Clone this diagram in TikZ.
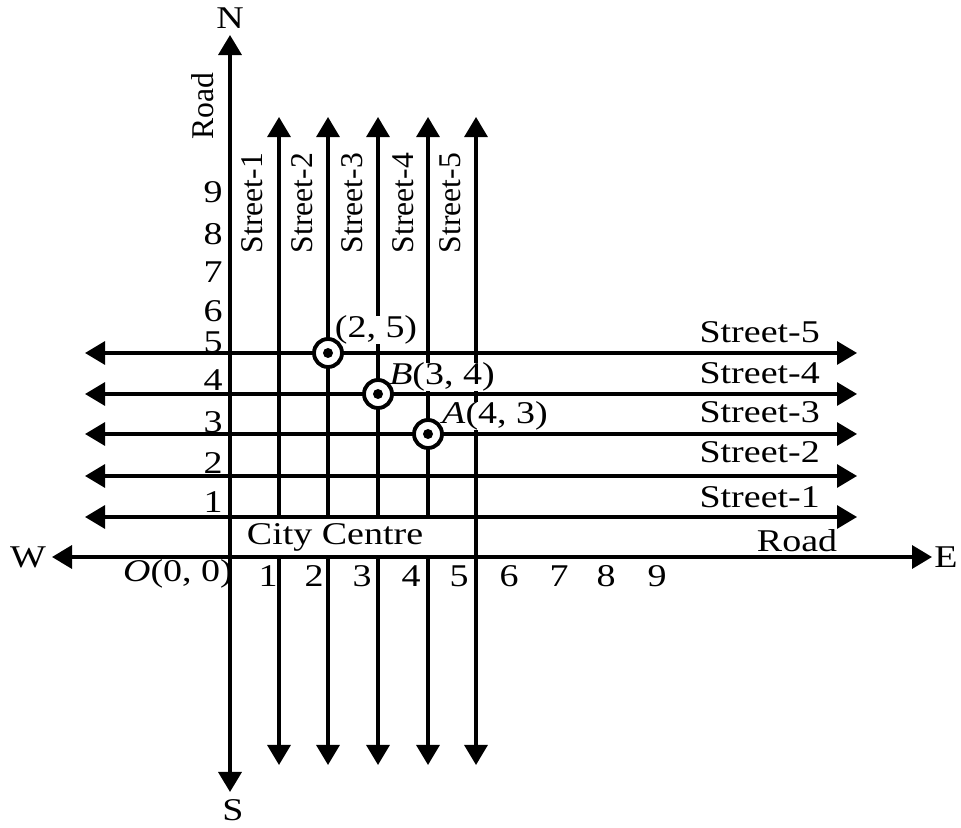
\documentclass[tikz,border=0pt]{standalone}
\usepackage{fontspec}
\setmainfont{Liberation Serif}[FakeStretch=1.2]
\newfontfamily\plainserif{Liberation Serif}
\usetikzlibrary{arrows.meta}

\begin{document}
\begin{tikzpicture}[x=0.01cm,y=-0.01cm,>={Triangle[length=2mm,width=2.3mm]},
  every node/.style={inner sep=1pt,font=\fontsize{9}{11}\selectfont},
  road/.style={<->,line width=1pt},
  street/.style={<->,line width=0.9pt},
  tag/.style={fill=white,inner ysep=0pt,inner xsep=1pt},
  uplabel/.style={rotate=90,font=\plainserif\fontsize{9}{11}\selectfont},
  spot/.style={circle,draw,fill=white,line width=1.1pt,minimum size=0.28cm,inner sep=0pt},
  dot/.style={circle,fill=black,minimum size=0.1cm,inner sep=0pt}]
  \useasboundingbox (0,0) rectangle (961,828);
  % main roads
  \coordinate (N) at (230,35);
  \coordinate (S) at (230,792);
  \coordinate (W) at (52,557);
  \coordinate (E) at (932,557);
  % streets north-south
  \coordinate (V1n) at (279,117); \coordinate (V1s) at (279,765);
  \coordinate (V2n) at (328,117); \coordinate (V2s) at (328,765);
  \coordinate (V3n) at (378,117); \coordinate (V3s) at (378,765);
  \coordinate (V4n) at (428,117); \coordinate (V4s) at (428,765);
  \coordinate (V5n) at (476,117); \coordinate (V5s) at (476,765);
  % streets east-west
  \coordinate (H1w) at (85,517); \coordinate (H1e) at (857,517);
  \coordinate (H2w) at (85,476); \coordinate (H2e) at (857,476);
  \coordinate (H3w) at (85,434); \coordinate (H3e) at (857,434);
  \coordinate (H4w) at (85,394); \coordinate (H4e) at (857,394);
  \coordinate (H5w) at (85,353); \coordinate (H5e) at (857,353);
  \draw[street] (V1s) -- (V1n);
  \draw[street] (V2s) -- (V2n);
  \draw[street] (V3s) -- (V3n);
  \draw[street] (V4s) -- (V4n);
  \draw[street] (V5s) -- (V5n);
  % labels that break the lines
  \node[tag,inner xsep=4pt,minimum height=0.37cm] (cc) at (335,537) {City Centre};
  \node[tag] (t25) at (376,330) {(2, 5)};
  \node[tag] (tB) at (442,377) {\textit{B}(3, 4)};
  \node[tag] (tA) at (495,416) {\textit{A}(4, 3)};
  \draw[road] (S) -- (N);
  \draw[road] (W) -- (E);
  \draw[street] (H1w) -- (H1e);
  \draw[street] (H2w) -- (H2e);
  \draw[street] (H3w) -- (H3e);
  \draw[street] (H4w) -- (H4e);
  \draw[street] (H5w) -- (H5e);
  % marked crossings
  \node[spot] (P25) at (328,353) {};
  \node[dot] at (P25) {};
  \node[spot] (PB) at (378,394) {};
  \node[dot] at (PB) {};
  \node[spot] (PA) at (428,434) {};
  \node[dot] at (PA) {};
  % directions and road names
  \node (lN) at (230,18) {N};
  \node (lS) at (233,810) {S};
  \node (lW) at (28,557) {W};
  \node (lE) at (946,557) {E};
  \node[uplabel] (lRoadNS) at (203,106) {Road};
  \node (lRoadWE) at (797,541) {Road};
  \node[uplabel] (lV1) at (252,203) {Street-1};
  \node[uplabel] (lV2) at (302,203) {Street-2};
  \node[uplabel] (lV3) at (352,203) {Street-3};
  \node[uplabel] (lV4) at (403,203) {Street-4};
  \node[uplabel] (lV5) at (450,203) {Street-5};
  \node[anchor=east] (lH1) at (824,497) {Street-1};
  \node[anchor=east] (lH2) at (824,452) {Street-2};
  \node[anchor=east] (lH3) at (824,412) {Street-3};
  \node[anchor=east] (lH4) at (824,373) {Street-4};
  \node[anchor=east] (lH5) at (824,332) {Street-5};
  % scale marks
  \node (O) at (178,574) {\textit{O}(0, 0)};
  \node (y1) at (213,502) {1};
  \node (y2) at (213,463) {2};
  \node (y3) at (213,422) {3};
  \node (y4) at (213,380) {4};
  \node (y5) at (213,342) {5};
  \node (y6) at (213,311) {6};
  \node (y7) at (213,272) {7};
  \node (y8) at (213,234) {8};
  \node (y9) at (213,192) {9};
  \node (x1) at (268,576) {1};
  \node (x2) at (314,576) {2};
  \node (x3) at (362,576) {3};
  \node (x4) at (411,576) {4};
  \node (x5) at (459,576) {5};
  \node (x6) at (509,576) {6};
  \node (x7) at (559,576) {7};
  \node (x8) at (606,576) {8};
  \node (x9) at (657,576) {9};
\end{tikzpicture}
\end{document}
